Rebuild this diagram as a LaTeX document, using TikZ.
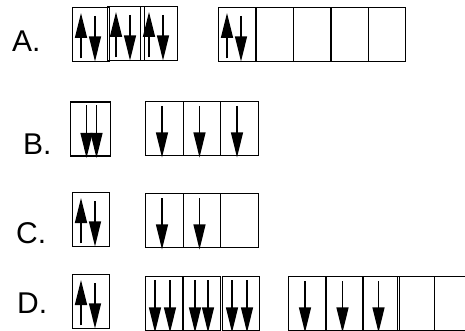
\documentclass[tikz,border=0pt]{standalone}
\usepackage{fontspec}
\setmainfont{Liberation Sans}
\usetikzlibrary{arrows.meta,calc}
\tikzset{
  orb/.style={rectangle, draw=black, line width=1.4pt, minimum width=37pt,
              minimum height=54pt, inner sep=0pt, anchor=north west},
  spin/.style={-{Triangle[length=25pt,width=12pt]}, line width=1.4pt},
  lbl/.style={font=\fontsize{30}{34}\selectfont, anchor=base west, inner sep=0pt},
}
% paired spins in one box
\newcommand{\updown}[1]{%
  \draw[spin] ($(#1.south west)+(9,-4)$) -- ($(#1.north west)+(9,6)$);
  \draw[spin] ($(#1.north west)+(23,9)$) -- ($(#1.south west)+(23,-1)$);
}
% single spin down
\newcommand{\onedown}[1]{%
  \draw[spin] ($(#1.north west)+(17,5)$) -- ($(#1.south west)+(17,1)$);
}
% two parallel spins down
\newcommand{\twodown}[3]{%
  \draw[spin] ($(#1.north west)+(#2,4)$) -- ($(#1.south west)+(#2,1)$);
  \draw[spin] ($(#1.north west)+(#3,4)$) -- ($(#1.south west)+(#3,1)$);
}

\begin{document}
\begin{tikzpicture}[x=1pt,y=-1pt]
  \useasboundingbox (0,0) rectangle (465,331);

  % A
  \node[lbl] (labA) at (12,52) {A.};
  \node[orb] (a1) at (72,7) {};
  \node[orb] (a2) at (107,6) {};
  \node[orb] (a3) at (140,6) {};
  \updown{a1} \updown{a2} \updown{a3}
  \foreach \i/\x in {1/218,2/255.5,3/293,4/330.5,5/368}
    \node[orb] (ap\i) at (\x,7) {};
  \updown{ap1}

  % B
  \node[lbl] (labB) at (23,154) {B.};
  \node[orb, minimum width=40pt] (b1) at (69.5,101.5) {};
  \twodown{b1}{17}{27}
  \foreach \i/\x in {1/145,2/182.5,3/220}
    \node[orb, minimum width=37.5pt] (bp\i) at (\x,101) {};
  \onedown{bp1} \onedown{bp2} \onedown{bp3}

  % C
  \node[lbl] (labC) at (16,243) {C.};
  \node[orb] (c1) at (72,192) {};
  \updown{c1}
  \foreach \i/\x in {1/145,2/182.5,3/220}
    \node[orb, minimum width=37.5pt] (cp\i) at (\x,193) {};
  \onedown{cp1} \onedown{cp2}

  % D
  \node[lbl] (labD) at (17,313) {D.};
  \node[orb] (d1) at (72,274) {};
  \updown{d1}
  \foreach \i/\x in {1/145,2/183,3/222}
    \node[orb] (dp\i) at (\x,276) {};
  \twodown{dp1}{10}{25}
  \twodown{dp2}{12}{25}
  \twodown{dp3}{10}{25}
  \foreach \i/\x in {1/288,2/325.5,3/361.5,4/397,5/433.5}
    \node[orb] (dq\i) at (\x,276) {};
  \onedown{dq1} \onedown{dq2} \onedown{dq3}
\end{tikzpicture}
\end{document}
